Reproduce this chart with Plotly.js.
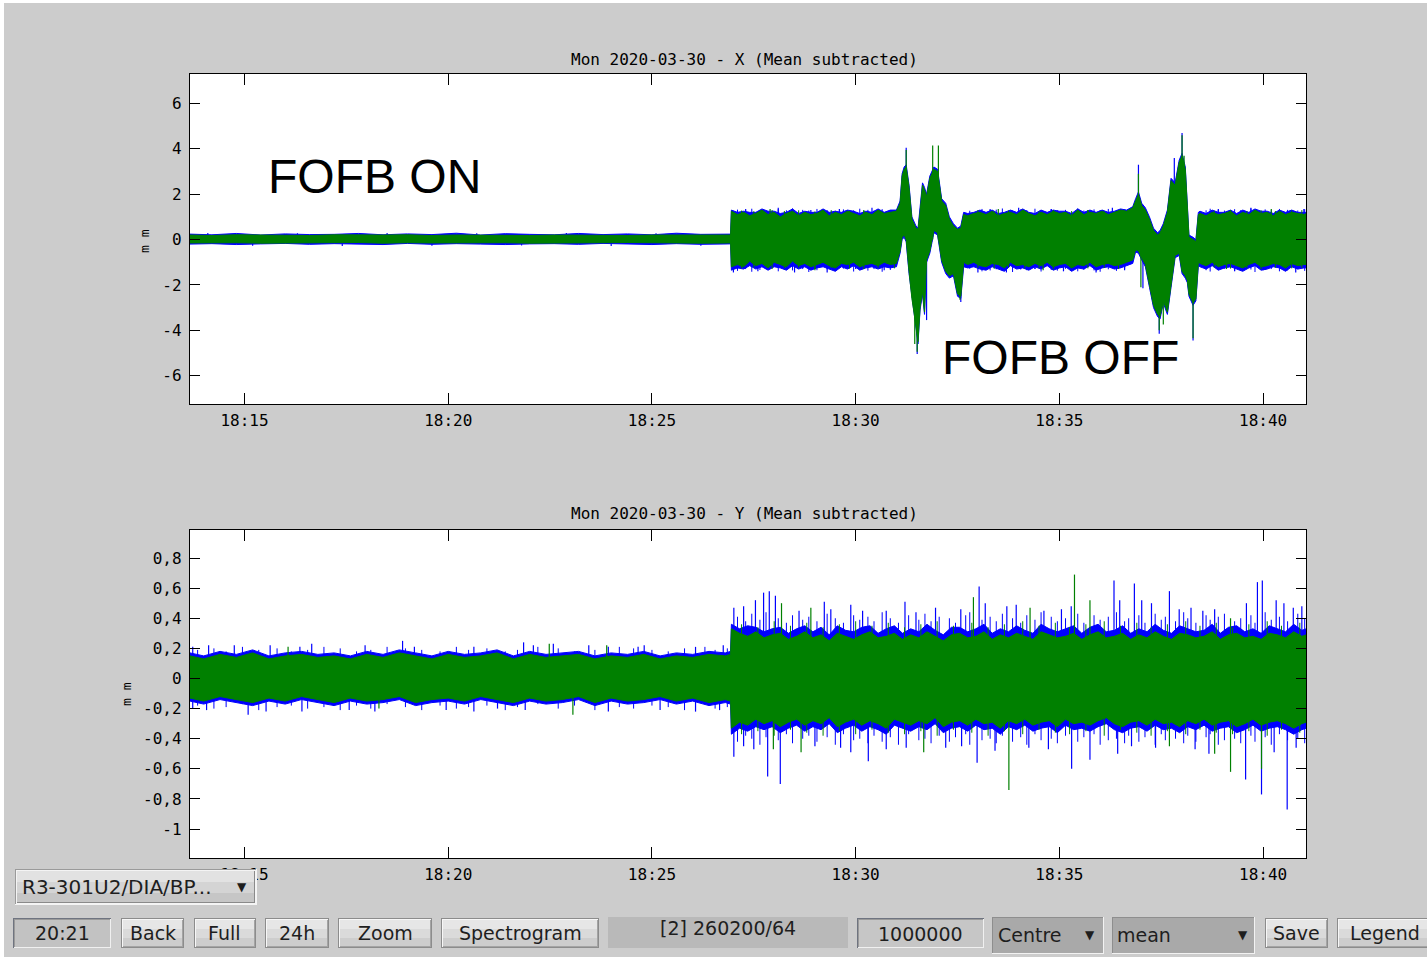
<!DOCTYPE html>
<html><head><meta charset="utf-8">
<script src="https://cdn.plot.ly/plotly-3.0.1.min.js"></script>
<style>html,body{margin:0;padding:0;background:#fff;overflow:hidden}#chart{width:1427px;height:957px}</style>
</head><body><div id="chart"></div>
<script>
// ---------- DATA (time in minutes after 18:00 on 2020-03-30) ----------
const xTickLabels = ['18:15','18:20','18:25','18:30','18:35','18:40'];
const xTickMinutes = [15,20,25,30,35,40];
const yTickValsX = [-6,-4,-2,0,2,4,6];
const yTickTextX = ['-6','-4','-2','0','2','4','6'];
const yTickValsY = [-1,-0.8,-0.6,-0.4,-0.2,0,0.2,0.4,0.6,0.8];
const yTickTextY = ['-1','-0,8','-0,6','-0,4','-0,2','0','0,2','0,4','0,6','0,8'];

// X plane: envelope of the traces
const xT = [13.66,14.2,14.8,15.4,16.0,16.6,17.2,17.8,18.4,19.0,19.6,20.2,20.8,21.4,22.0,22.6,23.2,23.8,24.4,25.0,25.6,26.2,26.93,
 26.95,27.1,27.25,27.4,27.55,27.7,27.85,28.0,28.15,28.3,28.45,28.6,28.75,28.9,29.05,29.2,29.35,29.5,29.65,29.8,29.95,30.1,30.25,30.4,30.55,30.7,30.85,31.0,
 31.09,31.14,31.19,31.24,31.31,31.38,31.48,31.53,31.58,31.64,31.69,31.74,31.82,31.92,32.01,32.11,32.21,32.30,32.40,32.50,32.58,32.65,
 32.75,32.9,33.05,33.2,33.35,33.5,33.65,33.8,33.95,34.1,34.25,34.4,34.55,34.7,34.85,35.0,35.15,35.3,35.45,35.6,35.75,35.9,36.05,36.2,36.35,36.5,36.65,36.8,
 36.87,36.94,37.02,37.11,37.21,37.31,37.41,37.47,37.55,37.65,37.74,37.84,37.94,38.01,38.09,38.14,38.18,38.28,38.35,38.41,
 38.45,38.6,38.75,38.9,39.05,39.2,39.35,39.5,39.65,39.8,39.95,40.1,40.25,40.4,40.55,40.7,40.85,41.0,41.06];
const xGreenHi = [0.2,0.18,0.21,0.19,0.2,0.18,0.21,0.19,0.2,0.21,0.18,0.2,0.19,0.21,0.18,0.2,0.19,0.21,0.18,0.2,0.19,0.21,0.2,
 1.25,1.1,1.2,1.05,1.15,1.3,1.1,1.2,1.0,1.15,1.25,1.05,1.2,1.1,1.15,1.3,1.05,1.2,1.1,1.25,1.15,1.05,1.2,1.1,1.3,1.15,1.2,1.25,
 1.6,2.8,3.1,3.2,2.3,0.9,0.5,0.45,1.2,2.4,2.2,1.9,2.7,3.1,3.0,1.7,1.5,0.9,0.6,0.45,0.5,1.1,
 1.05,1.15,1.2,1.1,1.25,1.05,1.15,1.2,1.1,1.3,1.15,1.05,1.2,1.1,1.25,1.15,1.2,1.05,1.3,1.1,1.2,1.15,1.25,1.1,1.2,1.3,1.25,1.4,
 1.7,2.0,1.5,1.3,0.9,0.4,0.2,0.3,0.6,1.2,2.6,2.4,3.4,3.7,3.1,1.2,0.1,0.0,-0.1,1.1,
 1.15,1.05,1.2,1.1,1.15,1.25,1.05,1.2,1.1,1.3,1.15,1.2,1.05,1.25,1.1,1.2,1.15,1.1,1.15];
const xGreenLo = [-0.15,-0.13,-0.14,-0.16,-0.13,-0.15,-0.14,-0.13,-0.16,-0.14,-0.15,-0.13,-0.15,-0.14,-0.16,-0.13,-0.15,-0.14,-0.13,-0.15,-0.14,-0.16,-0.15,
 -1.2,-1.1,-1.2,-0.95,-1.15,-1.05,-1.25,-1.0,-1.1,-1.2,-0.95,-1.15,-1.05,-1.2,-1.1,-1.0,-1.15,-1.25,-1.05,-1.1,-1.0,-1.2,-1.1,-1.05,-1.15,-1.0,-1.1,-1.05,
 -0.5,0.1,0.2,0.0,-1.4,-2.6,-3.8,-4.5,-3.0,-2.3,-3.2,-0.9,-0.5,0.4,0.3,-0.9,-1.4,-1.6,-1.5,-2.4,-2.5,-1.0,
 -1.1,-1.0,-1.15,-1.2,-1.05,-1.1,-1.25,-1.0,-1.15,-1.1,-1.2,-1.05,-1.15,-1.0,-1.2,-1.1,-1.05,-1.25,-1.1,-1.15,-1.0,-1.2,-1.1,-1.05,-1.15,-1.1,-1.0,-0.9,
 -0.45,-0.5,-0.8,-1.1,-2.0,-2.9,-3.3,-3.4,-2.7,-3.2,-2.0,-0.7,-0.6,-1.4,-1.6,-1.8,-2.4,-2.8,-2.6,-1.0,
 -1.05,-1.15,-1.0,-1.2,-1.1,-1.05,-1.15,-1.25,-1.1,-1.0,-1.2,-1.15,-1.05,-1.1,-1.25,-1.05,-1.15,-1.1,-1.1];
const xBlueHi = [0.24,0.21,0.27,0.2,0.25,0.22,0.23,0.27,0.21,0.25,0.22,0.28,0.2,0.26,0.23,0.21,0.27,0.22,0.25,0.21,0.28,0.23,0.24,
 1.3,1.2,1.25,1.2,1.2,1.35,1.25,1.25,1.15,1.2,1.35,1.15,1.25,1.2,1.2,1.35,1.2,1.25,1.2,1.3,1.25,1.15,1.25,1.2,1.35,1.2,1.3,1.3,
 1.7,2.9,3.2,3.3,2.4,1.0,0.6,0.5,1.3,2.5,2.3,2.0,2.8,3.2,3.1,1.8,1.6,1.0,0.7,0.5,0.6,1.2,
 1.15,1.2,1.3,1.2,1.3,1.15,1.2,1.3,1.2,1.35,1.2,1.15,1.3,1.2,1.3,1.25,1.25,1.15,1.35,1.2,1.3,1.2,1.3,1.2,1.25,1.35,1.3,1.45,
 1.8,2.1,1.6,1.4,1.0,0.5,0.3,0.4,0.7,1.3,2.7,2.5,3.5,3.8,3.2,1.3,0.2,0.1,0.0,1.2,
 1.25,1.15,1.3,1.2,1.2,1.3,1.15,1.3,1.2,1.35,1.25,1.25,1.15,1.3,1.2,1.3,1.2,1.2,1.2];
const xBlueLo = [-0.2,-0.18,-0.22,-0.19,-0.17,-0.21,-0.18,-0.2,-0.22,-0.17,-0.21,-0.18,-0.2,-0.22,-0.19,-0.18,-0.21,-0.17,-0.2,-0.22,-0.18,-0.21,-0.19,
 -1.35,-1.25,-1.3,-1.15,-1.3,-1.2,-1.35,-1.2,-1.25,-1.35,-1.15,-1.3,-1.2,-1.35,-1.25,-1.2,-1.3,-1.4,-1.2,-1.3,-1.15,-1.35,-1.25,-1.2,-1.3,-1.2,-1.25,-1.2,
 -0.6,0.0,0.1,-0.1,-1.5,-2.7,-3.9,-4.6,-3.1,-2.4,-3.3,-1.0,-0.6,0.3,0.2,-1.0,-1.5,-1.7,-1.6,-2.5,-2.6,-1.2,
 -1.25,-1.2,-1.3,-1.35,-1.2,-1.3,-1.4,-1.15,-1.3,-1.25,-1.35,-1.2,-1.3,-1.15,-1.35,-1.25,-1.2,-1.4,-1.25,-1.3,-1.15,-1.35,-1.25,-1.2,-1.3,-1.25,-1.15,-1.05,
 -0.55,-0.6,-0.9,-1.2,-2.1,-3.0,-3.4,-3.5,-2.8,-3.3,-2.1,-0.8,-0.7,-1.5,-1.7,-1.9,-2.5,-2.9,-2.7,-1.15,
 -1.2,-1.3,-1.15,-1.35,-1.25,-1.2,-1.3,-1.4,-1.25,-1.15,-1.35,-1.3,-1.2,-1.25,-1.4,-1.2,-1.3,-1.25,-1.25];
// X plane: isolated extreme samples
const xBlueSpikeT = [31.24,31.51,31.74,32.58,36.94,37.45,37.82,38.01,38.28,37.05,
 27.0,27.3,27.6,28.1,28.5,28.9,29.3,29.6,30.0,30.4,30.7,33.0,33.3,33.7,34.0,34.4,34.8,35.1,35.5,35.9,36.3,36.6,38.6,38.9,39.3,39.7,40.0,40.4,40.8,41.0,
 14.1,15.2,16.3,17.4,18.5,19.6,20.7,21.8,22.9,24.0,25.1,26.2];
const xBlueSpikeV = [4.05,-5.05,-3.55,-2.75,3.3,-4.15,3.6,4.7,-4.45,-2.15,
 -1.45,1.35,-1.4,1.4,-1.45,1.3,-1.45,1.35,-1.3,1.4,-1.35,-1.45,1.35,-1.45,1.4,-1.3,1.35,-1.4,1.3,-1.45,1.4,-1.35,-1.3,1.35,-1.4,1.4,-1.35,1.3,-1.45,1.35,
 0.29,-0.27,0.28,-0.28,0.29,-0.27,0.28,-0.26,0.29,-0.28,0.28,-0.27];
const xGreenSpikeT = [31.24,31.51,31.45,31.89,32.03,32.56,37.0,37.45,37.55,38.01,38.06,38.28,36.94,27.9,29.0,30.2,33.5,34.6,35.7,39.1,40.2];
const xGreenSpikeV = [3.95,-4.95,-4.6,4.15,4.15,-2.65,-2.1,-4.0,-3.75,4.6,3.7,-4.35,2.9,1.35,-1.35,1.3,1.35,-1.35,1.3,-1.3,1.35];
// X plane: ragged edge samples (noisy parts)
const xFringeT = [27.1,27.3,27.45,27.65,27.8,28.1,28.3,28.45,28.7,28.85,29.05,29.3,29.5,29.7,29.95,30.1,30.3,30.45,30.65,30.85,
 32.8,33.1,33.3,33.45,33.6,33.85,34.05,34.2,34.4,34.55,34.8,34.95,35.15,35.45,35.6,35.85,36.0,36.2,36.4,36.6,
 38.6,38.7,38.9,39.05,39.3,39.45,39.7,39.8,40.05,40.2,40.4,40.6,40.85,41.02];
const xBlueFringeUp = [1.32,1.28,1.36,1.3,1.27,1.34,1.29,1.37,1.31,1.28,1.35,1.3,1.27,1.33,1.29,1.36,1.31,1.28,1.34,1.3,
 1.27,1.35,1.29,1.32,1.37,1.28,1.33,1.3,1.36,1.27,1.34,1.29,1.31,1.37,1.28,1.33,1.3,1.35,1.27,1.32,
 1.29,1.36,1.31,1.28,1.34,1.3,1.37,1.27,1.33,1.29,1.35,1.31,1.28,1.34];
const xBlueFringeDown = [-1.38,-1.3,-1.42,-1.34,-1.29,-1.4,-1.33,-1.36,-1.3,-1.43,-1.35,-1.31,-1.39,-1.28,-1.41,-1.33,-1.37,-1.3,-1.42,-1.34,
 -1.29,-1.4,-1.36,-1.31,-1.38,-1.43,-1.32,-1.35,-1.3,-1.41,-1.34,-1.37,-1.29,-1.4,-1.33,-1.36,-1.42,-1.31,-1.38,-1.3,
 -1.35,-1.41,-1.33,-1.29,-1.39,-1.37,-1.32,-1.43,-1.34,-1.3,-1.4,-1.36,-1.31,-1.38];
const xGreenFringeT = [27.2,27.5,27.95,28.25,28.6,29.0,29.4,29.85,30.2,30.55,30.95,33.0,33.4,33.75,34.15,34.5,34.85,35.3,35.7,36.1,36.45,38.8,39.2,39.6,39.95,40.3,40.7,40.95];
const xGreenFringeUp = [1.28,1.25,1.3,1.26,1.29,1.24,1.3,1.27,1.25,1.29,1.26,1.3,1.24,1.28,1.27,1.25,1.3,1.26,1.29,1.24,1.28,1.27,1.3,1.25,1.29,1.26,1.28,1.3];
const xGreenFringeDown = [-1.27,-1.24,-1.3,-1.26,-1.23,-1.29,-1.25,-1.28,-1.3,-1.24,-1.27,-1.25,-1.29,-1.23,-1.28,-1.26,-1.3,-1.24,-1.27,-1.25,-1.29,-1.23,-1.28,-1.26,-1.3,-1.24,-1.27,-1.25];

// Y plane: envelope of the traces
const yT = [13.66,14.0,14.4,14.8,15.2,15.6,16.0,16.4,16.8,17.2,17.6,18.0,18.4,18.8,19.2,19.6,20.0,20.4,20.8,21.2,21.6,22.0,22.4,22.8,23.2,23.6,24.0,24.4,24.8,25.2,25.6,26.0,26.4,26.8,26.93,
 26.95,27.15,27.35,27.55,27.75,27.95,28.15,28.35,28.55,28.75,28.95,29.15,29.35,29.55,29.75,29.95,30.15,30.35,30.55,30.75,30.95,31.15,31.35,31.55,31.75,31.95,32.15,32.35,32.55,32.75,32.95,33.15,33.35,33.55,33.75,33.95,34.15,34.35,34.55,34.75,34.95,35.15,35.35,35.55,35.75,35.95,36.15,36.35,36.55,36.75,36.95,37.15,37.35,37.55,37.75,37.95,38.15,38.35,38.55,38.75,38.95,39.15,39.35,39.55,39.75,39.95,40.15,40.35,40.55,40.75,40.95,41.06];
const yGreenHi = [0.15,0.13,0.16,0.14,0.17,0.13,0.15,0.16,0.14,0.15,0.13,0.16,0.14,0.17,0.15,0.13,0.16,0.14,0.15,0.17,0.13,0.16,0.14,0.15,0.16,0.13,0.15,0.14,0.16,0.13,0.15,0.14,0.16,0.15,0.16,
 0.33,0.3,0.28,0.31,0.27,0.29,0.3,0.26,0.28,0.31,
 0.27,0.29,0.25,0.3,0.28,0.26,0.29,0.31,0.27,0.28,
 0.3,0.26,0.29,0.27,0.31,0.28,0.25,0.29,0.3,0.27,
 0.28,0.31,0.26,0.29,0.27,0.3,0.28,0.26,0.31,0.29,
 0.27,0.28,0.3,0.26,0.29,0.31,0.27,0.28,0.3,0.26,
 0.29,0.27,0.31,0.28,0.26,0.3,0.29,0.27,0.28,0.31,
 0.26,0.29,0.3,0.27,0.28,0.26,0.3,0.29,0.27,0.31,
 0.28,0.29];
const yGreenLo = [-0.13,-0.15,-0.12,-0.14,-0.16,-0.13,-0.15,-0.12,-0.14,-0.16,-0.13,-0.15,-0.14,-0.12,-0.16,-0.14,-0.13,-0.15,-0.12,-0.14,-0.16,-0.13,-0.15,-0.14,-0.12,-0.16,-0.13,-0.15,-0.14,-0.12,-0.15,-0.13,-0.16,-0.14,-0.15,
 -0.33,-0.29,-0.31,-0.27,-0.3,-0.28,-0.32,-0.29,-0.27,-0.31,
 -0.28,-0.3,-0.26,-0.32,-0.29,-0.27,-0.31,-0.28,-0.3,-0.33,
 -0.27,-0.29,-0.31,-0.28,-0.3,-0.26,-0.32,-0.29,-0.28,-0.31,
 -0.27,-0.3,-0.29,-0.33,-0.28,-0.3,-0.27,-0.31,-0.29,-0.28,
 -0.32,-0.27,-0.3,-0.29,-0.31,-0.28,-0.26,-0.3,-0.32,-0.29,
 -0.28,-0.31,-0.27,-0.3,-0.29,-0.32,-0.28,-0.3,-0.27,-0.31,
 -0.29,-0.28,-0.32,-0.3,-0.27,-0.31,-0.29,-0.28,-0.3,-0.33,
 -0.3,-0.29];
const yBlueHi = [0.17,0.15,0.18,0.16,0.19,0.15,0.17,0.18,0.16,0.17,0.15,0.18,0.16,0.19,0.17,0.15,0.18,0.16,0.17,0.19,0.15,0.18,0.16,0.17,0.18,0.15,0.17,0.16,0.18,0.15,0.17,0.16,0.18,0.17,0.18,
 0.36,0.33,0.35,0.34,0.31,0.33,0.34,0.3,0.33,0.35,
 0.31,0.34,0.29,0.35,0.32,0.31,0.34,0.35,0.3,0.33,
 0.35,0.3,0.33,0.31,0.36,0.32,0.29,0.34,0.34,0.31,
 0.33,0.36,0.3,0.33,0.31,0.35,0.32,0.3,0.36,0.33,
 0.31,0.33,0.35,0.3,0.34,0.36,0.31,0.32,0.35,0.3,
 0.33,0.31,0.36,0.32,0.3,0.35,0.33,0.31,0.32,0.36,
 0.3,0.34,0.35,0.31,0.33,0.3,0.35,0.33,0.31,0.36,
 0.32,0.33];
const yBlueLo = [-0.15,-0.17,-0.14,-0.16,-0.18,-0.15,-0.17,-0.14,-0.16,-0.18,-0.15,-0.17,-0.16,-0.14,-0.18,-0.16,-0.15,-0.17,-0.14,-0.16,-0.18,-0.15,-0.17,-0.16,-0.14,-0.18,-0.15,-0.17,-0.16,-0.14,-0.17,-0.15,-0.18,-0.16,-0.17,
 -0.37,-0.33,-0.35,-0.32,-0.34,-0.32,-0.36,-0.33,-0.31,-0.35,
 -0.32,-0.34,-0.3,-0.36,-0.33,-0.31,-0.35,-0.32,-0.34,-0.37,
 -0.31,-0.33,-0.35,-0.32,-0.34,-0.3,-0.36,-0.33,-0.32,-0.35,
 -0.31,-0.34,-0.33,-0.37,-0.32,-0.34,-0.31,-0.35,-0.33,-0.32,
 -0.36,-0.31,-0.34,-0.33,-0.35,-0.32,-0.3,-0.34,-0.36,-0.33,
 -0.32,-0.35,-0.31,-0.34,-0.33,-0.36,-0.32,-0.34,-0.31,-0.35,
 -0.33,-0.32,-0.36,-0.34,-0.31,-0.35,-0.33,-0.32,-0.34,-0.37,
 -0.34,-0.33];
// Y plane: isolated extreme samples
const yBlueSpikeT = [27.01,27.25,27.54,27.74,27.88,28.03,28.61,29.23,29.39,29.88,30.17,30.75,31.21,31.48,31.96,32.58,33.03,33.18,33.71,33.94,34.62,35.05,35.29,36.34,36.48,36.84,37.02,37.26,37.70,37.94,38.23,38.52,38.81,39.59,39.86,39.98,40.32,40.51,40.74,40.95,
 27.01,27.25,27.5,27.84,28.15,29.0,29.63,29.88,30.31,30.75,31.24,32.21,32.6,32.98,33.42,34.25,34.73,35.3,35.75,36.43,36.77,37.36,38.33,38.67,39.57,39.96,40.27,40.59,40.81,
 13.73,14.12,14.75,15.63,16.36,16.65,17.96,18.88,19.17,20.63,21.85,22.09,22.58,23.45,23.93,24.66,24.81,26.07,26.75,
 13.73,14.07,15.09,15.53,16.41,17.57,18.2,19.95,20.63,21.21,21.89,23.93,25.2,26.07,26.66];
const yBlueSpikeV = [0.47,0.48,0.52,0.57,0.58,0.55,0.45,0.51,0.46,0.49,0.45,0.45,0.51,0.44,0.47,0.46,0.61,0.5,0.48,0.49,0.45,0.46,0.48,0.65,0.52,0.63,0.52,0.5,0.58,0.46,0.47,0.45,0.46,0.5,0.64,0.65,0.52,0.5,0.47,0.48,
 -0.52,-0.45,-0.47,-0.65,-0.7,-0.45,-0.46,-0.49,-0.55,-0.47,-0.46,-0.46,-0.45,-0.56,-0.48,-0.46,-0.47,-0.6,-0.54,-0.5,-0.45,-0.46,-0.47,-0.5,-0.67,-0.77,-0.49,-0.87,-0.46,
 0.21,0.22,0.22,0.22,0.21,0.23,0.22,0.25,0.21,0.21,0.24,0.22,0.23,0.22,0.21,0.21,0.22,0.21,0.22,
 -0.2,-0.21,-0.24,-0.22,-0.22,-0.21,-0.22,-0.21,-0.22,-0.2,-0.21,-0.22,-0.21,-0.22,-0.21];
const yGreenSpikeT = [28.18,28.9,32.89,34.28,35.37,35.75,39.2,27.98,28.66,31.67,33.76,37.7,38.81,39.2,39.96,16.07,22.48,23.89,23.06,18.3];
const yGreenSpikeV = [0.5,0.47,0.54,0.47,0.69,0.52,0.4,-0.47,-0.49,-0.49,-0.74,-0.45,-0.5,-0.62,-0.6,0.21,0.23,0.22,-0.24,-0.2];
// Y plane: ragged edge samples
const yFringeT = [27.1,27.3,27.45,27.65,27.8,28.1,28.3,28.45,28.7,28.85,29.05,29.3,29.5,29.7,29.95,30.1,30.3,30.45,30.65,30.85,
 31.05,31.3,31.55,31.7,31.85,32.05,32.3,32.45,32.7,32.8,33.1,33.3,33.45,33.6,33.85,34.05,34.2,34.4,34.55,34.8,
 34.95,35.15,35.45,35.6,35.85,36.0,36.2,36.4,36.6,36.7,36.95,37.1,37.35,37.5,37.6,37.85,38.05,38.15,38.35,38.6,
 38.7,38.9,39.05,39.3,39.45,39.7,39.8,40.05,40.2,40.4,40.6,40.85,41.02];
const yBlueFringeUp = [0.41,0.38,0.43,0.39,0.44,0.4,0.37,0.42,0.39,0.41,0.38,0.43,0.4,0.37,0.42,0.39,0.41,0.38,0.44,0.4,
 0.37,0.42,0.39,0.43,0.38,0.41,0.4,0.37,0.42,0.44,0.39,0.41,0.38,0.43,0.4,0.37,0.42,0.39,0.44,0.41,
 0.38,0.4,0.43,0.37,0.42,0.39,0.41,0.44,0.38,0.4,0.42,0.37,0.43,0.39,0.41,0.38,0.44,0.4,0.37,0.42,
 0.39,0.41,0.43,0.38,0.4,0.42,0.37,0.44,0.39,0.41,0.38,0.43,0.4];
const yBlueFringeDown = [-0.42,-0.38,-0.4,-0.44,-0.39,-0.41,-0.37,-0.43,-0.4,-0.38,-0.42,-0.39,-0.44,-0.37,-0.41,-0.4,-0.43,-0.38,-0.42,-0.39,
 -0.44,-0.37,-0.41,-0.4,-0.43,-0.38,-0.42,-0.39,-0.37,-0.44,-0.41,-0.4,-0.43,-0.38,-0.42,-0.39,-0.44,-0.37,-0.41,-0.4,
 -0.43,-0.38,-0.42,-0.39,-0.37,-0.44,-0.41,-0.4,-0.43,-0.38,-0.42,-0.39,-0.44,-0.37,-0.41,-0.4,-0.43,-0.38,-0.42,-0.39,
 -0.37,-0.44,-0.41,-0.4,-0.43,-0.38,-0.42,-0.39,-0.44,-0.37,-0.41,-0.4,-0.43];
const yGreenFringeT = [27.2,27.6,28.0,28.4,28.8,29.2,29.6,30.0,30.4,30.8,31.2,31.6,32.0,32.4,32.85,33.25,33.65,34.1,34.5,34.9,35.25,35.65,36.1,36.5,36.9,37.25,37.65,38.1,38.45,38.85,39.25,39.65,40.1,40.45,40.9];
const yGreenFringeUp = [0.36,0.34,0.38,0.35,0.37,0.34,0.36,0.38,0.35,0.37,0.34,0.36,0.38,0.35,0.37,0.34,0.36,0.38,0.35,0.37,0.34,0.36,0.38,0.35,0.37,0.34,0.36,0.38,0.35,0.37,0.34,0.36,0.38,0.35,0.37];
const yGreenFringeDown = [-0.37,-0.35,-0.38,-0.34,-0.36,-0.38,-0.35,-0.37,-0.34,-0.36,-0.37,-0.35,-0.38,-0.34,-0.36,-0.38,-0.35,-0.37,-0.34,-0.36,-0.37,-0.35,-0.38,-0.34,-0.36,-0.38,-0.35,-0.37,-0.34,-0.36,-0.37,-0.35,-0.38,-0.34,-0.36];
const yQuietFringeT = [13.85,14.25,14.55,14.95,15.35,15.8,16.15,16.55,16.95,17.35,17.75,18.1,18.5,18.95,19.35,19.8,20.2,20.5,20.95,21.4,21.7,22.2,22.7,23.1,23.6,24.2,24.55,25.0,25.4,25.8,26.3,26.55,26.85];
const yQuietFringeUp = [0.19,0.2,0.18,0.21,0.19,0.2,0.18,0.19,0.21,0.2,0.18,0.19,0.21,0.2,0.19,0.18,0.21,0.19,0.2,0.18,0.19,0.21,0.2,0.18,0.19,0.21,0.2,0.19,0.18,0.2,0.21,0.19,0.2];
const yQuietFringeDown = [-0.18,-0.2,-0.19,-0.17,-0.21,-0.19,-0.18,-0.2,-0.19,-0.21,-0.18,-0.2,-0.17,-0.19,-0.21,-0.18,-0.2,-0.19,-0.18,-0.21,-0.19,-0.17,-0.2,-0.18,-0.21,-0.19,-0.2,-0.18,-0.19,-0.21,-0.17,-0.2,-0.19];

// ---------- RENDERING ----------
const W = 1427, H = 957;
const BASE = Date.UTC(2020, 2, 30, 18, 0, 0);
function toDate(m) { return new Date(BASE + Math.round(m * 60000)).toISOString().slice(0, 23).replace('T', ' '); }
function px(x) { return x / W; }
function py(y) { return 1 - y / H; }
const BLUE = '#0000ff', GREEN = '#008000';

function band(T, hi, lo, color, lw, xa, ya) {
  const n = Math.min(T.length, hi.length, lo.length);
  const xs = [], ys = [];
  for (let i = 0; i < n; i++) { xs.push(toDate(T[i])); ys.push(hi[i]); }
  for (let i = n - 1; i >= 0; i--) { xs.push(toDate(T[i])); ys.push(lo[i]); }
  xs.push(xs[0]); ys.push(ys[0]);
  return { type: 'scatter', mode: 'lines', x: xs, y: ys, fill: 'toself', fillcolor: color,
    line: { color: color, width: lw }, xaxis: xa, yaxis: ya, hoverinfo: 'skip', showlegend: false };
}
function spikes(T, V, color, lw, xa, ya) {
  const n = Math.min(T.length, V.length);
  const xs = [], ys = [];
  for (let i = 0; i < n; i++) { const d = toDate(T[i]); xs.push(d, d, null); ys.push(0, V[i], null); }
  return { type: 'scatter', mode: 'lines', x: xs, y: ys, line: { color: color, width: lw },
    xaxis: xa, yaxis: ya, hoverinfo: 'skip', showlegend: false };
}

const traces = [
  band(xT, xBlueHi, xBlueLo, BLUE, 1, 'x', 'y'),
  spikes(xBlueSpikeT, xBlueSpikeV, BLUE, 1.2, 'x', 'y'),
  spikes(xFringeT, xBlueFringeUp, BLUE, 1, 'x', 'y'),
  spikes(xFringeT, xBlueFringeDown, BLUE, 1, 'x', 'y'),
  band(xT, xGreenHi, xGreenLo, GREEN, 1, 'x', 'y'),
  spikes(xGreenSpikeT, xGreenSpikeV, GREEN, 1.2, 'x', 'y'),
  spikes(xGreenFringeT, xGreenFringeUp, GREEN, 1, 'x', 'y'),
  spikes(xGreenFringeT, xGreenFringeDown, GREEN, 1, 'x', 'y'),

  band(yT, yBlueHi, yBlueLo, BLUE, 1, 'x2', 'y2'),
  spikes(yBlueSpikeT, yBlueSpikeV, BLUE, 1.2, 'x2', 'y2'),
  spikes(yFringeT, yBlueFringeUp, BLUE, 1, 'x2', 'y2'),
  spikes(yFringeT, yBlueFringeDown, BLUE, 1, 'x2', 'y2'),
  spikes(yQuietFringeT, yQuietFringeUp, BLUE, 1, 'x2', 'y2'),
  spikes(yQuietFringeT, yQuietFringeDown, BLUE, 1, 'x2', 'y2'),
  band(yT, yGreenHi, yGreenLo, GREEN, 1, 'x2', 'y2'),
  spikes(yGreenSpikeT, yGreenSpikeV, GREEN, 1.2, 'x2', 'y2'),
  spikes(yGreenFringeT, yGreenFringeUp, GREEN, 1, 'x2', 'y2'),
  spikes(yGreenFringeT, yGreenFringeDown, GREEN, 1, 'x2', 'y2')
];

const MONO = 'DejaVu Sans Mono';
const UI = 'DejaVu Sans';
const xRange = [toDate(13.663), toDate(41.052)];
function xAxis(dom, anchor) {
  return { domain: dom, anchor: anchor, type: 'date', range: xRange,
    tickvals: xTickMinutes.map(toDate), ticktext: xTickLabels,
    ticks: 'inside', ticklen: 11, tickwidth: 1, tickcolor: '#000', mirror: 'ticks',
    showline: true, linecolor: '#000', linewidth: 1.2, showgrid: false, zeroline: false,
    tickfont: { family: MONO, size: 16, color: '#000' }, ticklabelstandoff: 2, fixedrange: true };
}
function yAxis(dom, anchor, range, vals, text) {
  return { domain: dom, anchor: anchor, range: range, tickvals: vals, ticktext: text,
    ticks: 'inside', ticklen: 10, tickwidth: 1, tickcolor: '#000', mirror: 'ticks',
    showline: true, linecolor: '#000', linewidth: 1.2, showgrid: false, zeroline: false,
    tickfont: { family: MONO, size: 16, color: '#000' }, ticklabelstandoff: 4, fixedrange: true };
}

const shapes = [];
const annotations = [];
function rect(x0, y0, x1, y1, fill) {
  shapes.push({ type: 'rect', xref: 'paper', yref: 'paper', x0: px(x0), x1: px(x1), y0: py(y1), y1: py(y0),
    fillcolor: fill, line: { width: 0 }, layer: 'above' });
}
function raised(x0, y0, x1, y1) {
  rect(x0, y0, x1, y1, '#8c8c8c');
  rect(x0 + 1, y0 + 1, x1 - 1, y1 - 1, '#f7f7f7');
  rect(x0 + 2, y0 + 2, x1 - 1, y1 - 1, '#a4a4a4');
  const h = (y1 - 1) - (y0 + 2);
  rect(x0 + 2, y0 + 2, x1 - 2, y0 + 2 + h / 3, '#e6e6e6');
  rect(x0 + 2, y0 + 2 + h / 3, x1 - 2, y0 + 2 + 2 * h / 3, '#dadada');
  rect(x0 + 2, y0 + 2 + 2 * h / 3, x1 - 2, y1 - 2, '#cdcdcd');
}
function sunken(x0, y0, x1, y1, fill) {
  rect(x0, y0, x1, y1, '#6f7480');
  rect(x0 + 1, y0 + 1, x1, y1, '#f0f0f0');
  rect(x0 + 1, y0 + 1, x1 - 1, y1 - 1, '#9a9a9a');
  rect(x0 + 2, y0 + 2, x1 - 1, y1 - 1, fill);
}
function darkDrop(x0, y0, x1, y1) {
  rect(x0, y0, x1, y1, '#f2f2f2');
  rect(x0, y0, x1 - 1, y1 - 1, '#8e8e8e');
  rect(x0 + 1, y0 + 1, x1 - 1, y1 - 1, '#a9a9a9');
}
function label(x, y, text, anchor, size, family) {
  annotations.push({ xref: 'paper', yref: 'paper', x: px(x), y: py(y), text: text, showarrow: false,
    xanchor: anchor || 'center', yanchor: 'middle', font: { family: family || UI, size: size || 19, color: '#1e1e1e' } });
}

// white strips at the top and left edges of the screenshot
rect(0, 0, W, 3, '#ffffff');
rect(0, 0, 4, H, '#ffffff');

// dropdown above the button row
rect(15, 869, 257, 905, '#f4f4f4');
rect(15, 869, 256, 904, '#9a9a9a');
rect(16, 870, 256, 904, '#f4f4f4');
rect(17, 871, 255, 903, '#8a8a8a');
rect(17, 871, 254, 882, '#e2e2e2');
rect(17, 882, 254, 893, '#d4d4d4');
rect(17, 893, 254, 902, '#c6c6c6');
label(20, 887, 'R3-301U2/DIA/BP...', 'left', 20);
label(242, 887, '▼', 'center', 12);

// button row
sunken(13, 918, 111, 948, '#c2c2c2'); label(62, 933, '20:21');
raised(121, 918, 184, 948); label(152.5, 933, 'Back');
raised(194, 918, 256, 948); label(225, 933, 'Full');
raised(265, 918, 329, 948); label(297, 933, '24h');
raised(338, 918, 432, 948); label(385, 933, 'Zoom');
raised(441, 918, 599, 948); label(520, 933, 'Spectrogram');
rect(608, 917, 848, 948, '#b9b9b9'); label(728, 928, '[2] 260200/64');
sunken(857, 918, 984, 948, '#c6c6c6'); label(920, 934, '1000000');
darkDrop(992, 917, 1104, 954); label(996, 935, 'Centre', 'left'); label(1090, 935, '▼', 'center', 12);
darkDrop(1112, 917, 1255, 954); label(1115, 935, 'mean', 'left'); label(1243, 935, '▼', 'center', 12);
raised(1265, 918, 1328, 948); label(1296.5, 933, 'Save');
raised(1337, 918, 1432, 948); label(1348, 933, 'Legend', 'left');

// chart titles, units and comments
function txt(x, y, text, size, family, anchor, angle) {
  annotations.push({ xref: 'paper', yref: 'paper', x: px(x), y: py(y), text: text, showarrow: false,
    xanchor: anchor || 'center', yanchor: 'middle', textangle: angle || 0,
    font: { family: family, size: size, color: '#000' } });
}
txt(744, 59, 'Mon 2020-03-30 - X (Mean subtracted)', 16, MONO);
txt(744, 513, 'Mon 2020-03-30 - Y (Mean subtracted)', 16, MONO);
txt(145, 241, 'm m', 13, MONO, 'center', -90);
txt(126, 694, 'm m', 13, MONO, 'center', -90);
txt(374, 176, 'FOFB ON', 48, 'Liberation Sans');
txt(1060, 357, 'FOFB OFF', 48, 'Liberation Sans');

const layout = {
  width: W, height: H, margin: { l: 0, r: 0, t: 0, b: 0 },
  paper_bgcolor: '#cccccc', plot_bgcolor: '#ffffff', showlegend: false,
  xaxis: xAxis([190 / W, 1306 / W], 'y'),
  yaxis: yAxis([1 - 404 / H, 1 - 74 / H], 'x', [-7.25, 7.3], yTickValsX, yTickTextX),
  xaxis2: xAxis([190 / W, 1306 / W], 'y2'),
  yaxis2: yAxis([1 - 858 / H, 1 - 530 / H], 'x2', [-1.192, 0.986], yTickValsY, yTickTextY),
  shapes: shapes, annotations: annotations
};

Plotly.newPlot('chart', traces, layout, { staticPlot: true, displayModeBar: false });
</script>
</body></html>
